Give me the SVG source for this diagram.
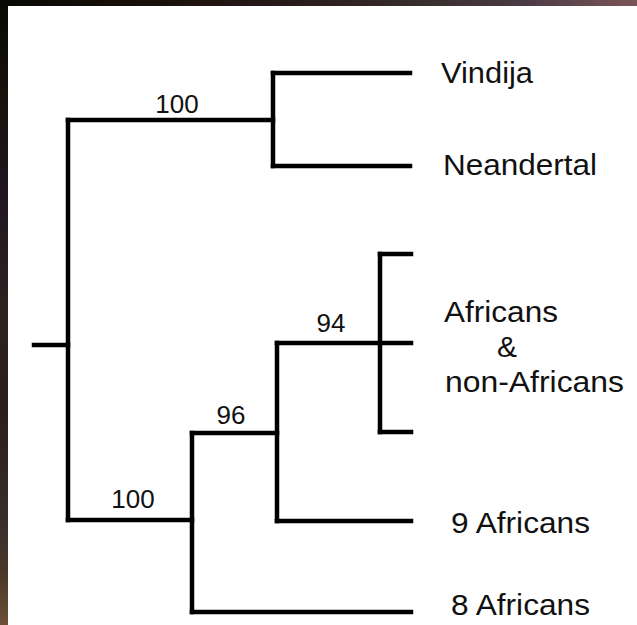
<svg xmlns="http://www.w3.org/2000/svg" width="637" height="625" viewBox="0 0 637 625">
  <defs>
    <linearGradient id="topBand" x1="0" y1="0" x2="1" y2="0">
      <stop offset="0" stop-color="#080804"/>
      <stop offset="0.25" stop-color="#1a100a"/>
      <stop offset="0.5" stop-color="#2a1e1e"/>
      <stop offset="0.68" stop-color="#3a302f"/>
      <stop offset="0.82" stop-color="#4a3a44"/>
      <stop offset="1" stop-color="#7a5558"/>
    </linearGradient>
    <linearGradient id="leftBand" x1="0" y1="0" x2="0" y2="1">
      <stop offset="0" stop-color="#080804"/>
      <stop offset="0.15" stop-color="#16120a"/>
      <stop offset="0.3" stop-color="#201520"/>
      <stop offset="0.5" stop-color="#2c2220"/>
      <stop offset="0.65" stop-color="#2a1e1a"/>
      <stop offset="0.82" stop-color="#362c2c"/>
      <stop offset="0.92" stop-color="#4a3828"/>
      <stop offset="1" stop-color="#6a5035"/>
    </linearGradient>
    <style>
      .br { fill: none; stroke: #000; stroke-width: 4.5; stroke-linecap: square; stroke-linejoin: miter; }
      .lbl { font-family: "Liberation Sans", Arial, Helvetica, sans-serif; font-size: 30px; fill: #111; }
      .sup { font-family: "Liberation Sans", Arial, Helvetica, sans-serif; font-size: 26px; fill: #111; text-anchor: middle; }
    </style>
  </defs>
  <rect x="0" y="0" width="637" height="625" fill="#ffffff"/>
  <rect x="0" y="0" width="637" height="6" fill="url(#topBand)"/>
  <rect x="0" y="0" width="8" height="625" fill="url(#leftBand)"/>

  <g id="connectors">
    <path class="br" d="M34 345 H68"/>
    <path class="br" d="M68 120 V520"/>
    <path class="br" d="M68 120 H273"/>
    <path class="br" d="M273 73 V166"/>
    <path class="br" d="M273 73 H410"/>
    <path class="br" d="M273 166 H410"/>
    <path class="br" d="M68 520 H192"/>
    <path class="br" d="M192 433 V612"/>
    <path class="br" d="M192 433 H277"/>
    <path class="br" d="M192 612 H411"/>
    <path class="br" d="M277 343 V521"/>
    <path class="br" d="M277 521 H411"/>
    <path class="br" d="M277 343 H411"/>
    <path class="br" d="M380 254 V432"/>
    <path class="br" d="M380 254 H411"/>
    <path class="br" d="M380 432 H411"/>
  </g>

  <g id="support-labels">
    <text class="sup" x="177" y="113">100</text>
    <text class="sup" x="133" y="508">100</text>
    <text class="sup" x="231" y="424">96</text>
    <text class="sup" x="331" y="332">94</text>
  </g>

  <g id="node-vindija">
    <text class="lbl" x="441" y="83" textLength="92" lengthAdjust="spacingAndGlyphs">Vindija</text>
  </g>
  <g id="node-neandertal">
    <text class="lbl" x="443" y="175" textLength="154" lengthAdjust="spacingAndGlyphs">Neandertal</text>
  </g>
  <g id="node-africans-nonafricans">
    <text class="lbl" x="444" y="322" textLength="114" lengthAdjust="spacingAndGlyphs">Africans</text>
    <text class="lbl" x="497" y="357">&amp;</text>
    <text class="lbl" x="445" y="392" textLength="179" lengthAdjust="spacingAndGlyphs">non-Africans</text>
  </g>
  <g id="node-9-africans">
    <text class="lbl" x="451" y="533" textLength="139" lengthAdjust="spacingAndGlyphs">9 Africans</text>
  </g>
  <g id="node-8-africans">
    <text class="lbl" x="451" y="615" textLength="139" lengthAdjust="spacingAndGlyphs">8 Africans</text>
  </g>
</svg>
